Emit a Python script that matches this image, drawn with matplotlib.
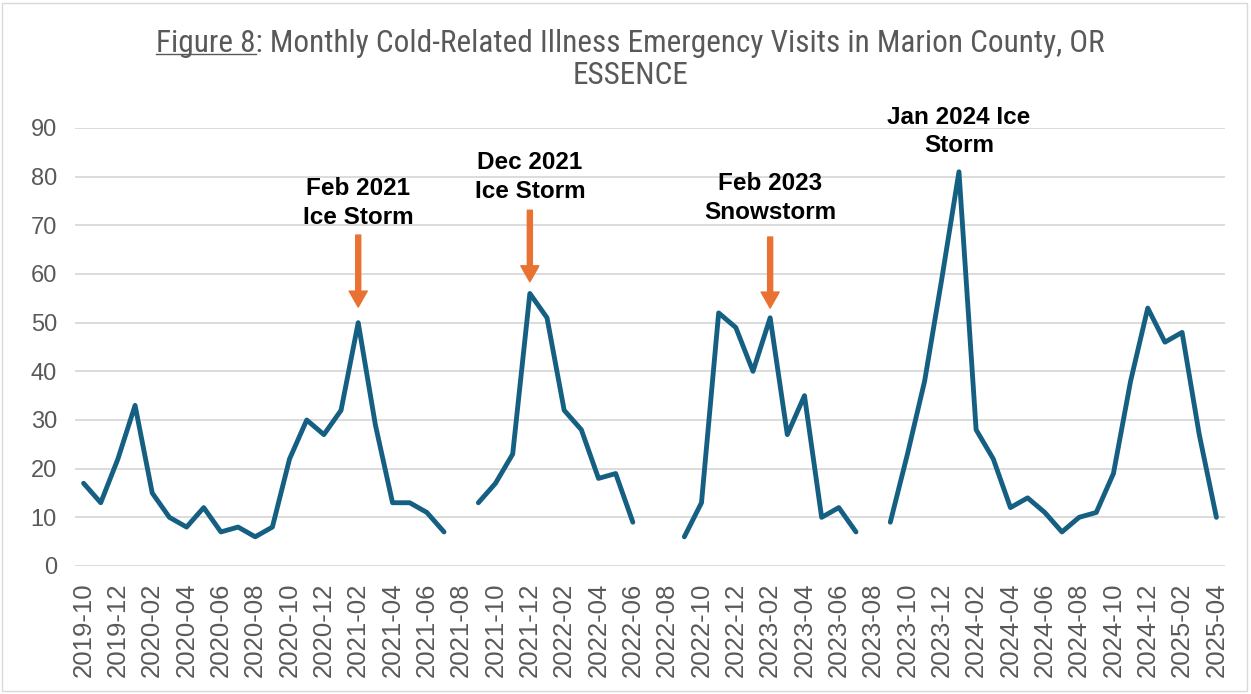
import numpy as np
import matplotlib
matplotlib.use("Agg")
import matplotlib.pyplot as plt
from matplotlib import font_manager
from matplotlib.patches import Rectangle
from matplotlib.lines import Line2D

# monthly visits, 2019-10 .. 2025-04 (None = no data)
start_year, start_month = 2019, 10
visits = [17, 13, 22, 33, 15, 10, 8, 12, 7, 8, 6, 8,
          22, 30, 27, 32, 50, 29, 13, 13, 11, 7, None, 13,
          17, 23, 56, 51, 32, 28, 18, 19, 9, None, None, 6,
          13, 52, 49, 40, 51, 27, 35, 10, 12, 7, None, 9,
          23, 38, 59, 81, 28, 22, 12, 14, 11, 7, 10, 11,
          19, 38, 53, 46, 48, 27, 10]

month_labels = []
y, m = start_year, start_month
for i in range(len(visits)):
    month_labels.append("%d-%02d" % (y, m))
    m += 1
    if m > 12:
        m = 1
        y += 1

events = ["Feb 2021\nIce Storm", "Dec 2021\nIce Storm", "Feb 2023\nSnowstorm", "Jan 2024 Ice\nStorm"]
event_months = ["2021-02", "2021-12", "2023-02", "2024-01"]
event_text_y = [74.6, 79.9, 75.6, 89.3]
arrow_tail = [68, 73.1, 67.6, None]
arrow_tip = [53.2, 58.4, 53.0, None]

installed = {f.name for f in font_manager.fontManager.ttflist}
tick_font = "Liberation Sans" if "Liberation Sans" in installed else "DejaVu Sans"
title_font = tick_font
for cand in ["Liberation Sans Narrow", "Roboto Condensed", "Open Sans Condensed"]:
    if cand in installed:
        title_font = cand
        break

plt.rcParams["font.family"] = [tick_font, "DejaVu Sans"]

line_col = "#156082"
grey = "#595959"
orange = "#E97132"

fig = plt.figure(figsize=(12.51, 6.94), dpi=100)
ax = fig.add_axes([75 / 1251, 1 - 566 / 694, 1150 / 1251, 438 / 694])

x = np.arange(len(visits))
yv = np.array([np.nan if v is None else v for v in visits], dtype=float)
ax.plot(x, yv, color=line_col, lw=3.5, solid_joinstyle="round", solid_capstyle="round")

ax.set_xlim(-0.5, len(visits) - 0.5)
ax.set_ylim(0, 90)
ax.set_yticks(range(0, 91, 10))
ax.set_xticks(x[::2])
ax.set_xticklabels(month_labels[::2], rotation=90)
ax.tick_params(axis="y", length=0, pad=13, labelsize=17, labelcolor=grey)
ax.tick_params(axis="x", length=0, pad=12, labelsize=18.5, labelcolor=grey)
ax.grid(axis="y", color="#D9D9D9", lw=1.3)
ax.set_axisbelow(True)
for s in ax.spines.values():
    s.set_visible(False)

for i in range(len(events)):
    xi = month_labels.index(event_months[i])
    ax.text(xi, event_text_y[i], events[i], ha="center", va="center",
            fontsize=17.5, fontweight="bold", color="black", linespacing=1.3)
    if arrow_tail[i] is not None:
        ax.annotate("", xy=(xi, arrow_tip[i]), xytext=(xi, arrow_tail[i]),
                    arrowprops=dict(width=3.6, headwidth=13, headlength=11.5,
                                    color=orange, shrink=0))

# title (first word underlined)
tsize = 22.5
t1 = fig.text(0.504, 1 - 43 / 694, "Figure 8: Monthly Cold-Related Illness Emergency Visits in Marion County, OR",
              ha="center", va="center", fontsize=tsize, color=grey, family=title_font)
fig.text(0.504, 1 - 76 / 694, "ESSENCE", ha="center", va="center",
         fontsize=tsize, color=grey, family=title_font)
fig.canvas.draw()
r = fig.canvas.get_renderer()
bb = t1.get_window_extent(r)
tmp = fig.text(0, 0, "Figure 8", fontsize=tsize, family=title_font)
w = tmp.get_window_extent(r).width
tmp.remove()
W, H = fig.canvas.get_width_height()
uy = (bb.y0 + 4) / H
fig.add_artist(Line2D([bb.x0 / W, (bb.x0 + w) / W], [uy, uy], color=grey, lw=1))

fig.add_artist(Rectangle((2 / 1251, 3 / 694), 1245 / 1251, 688 / 694, transform=fig.transFigure,
                         fill=False, edgecolor="#D9D9D9", lw=1))

fig.savefig("out.png", dpi=100)
